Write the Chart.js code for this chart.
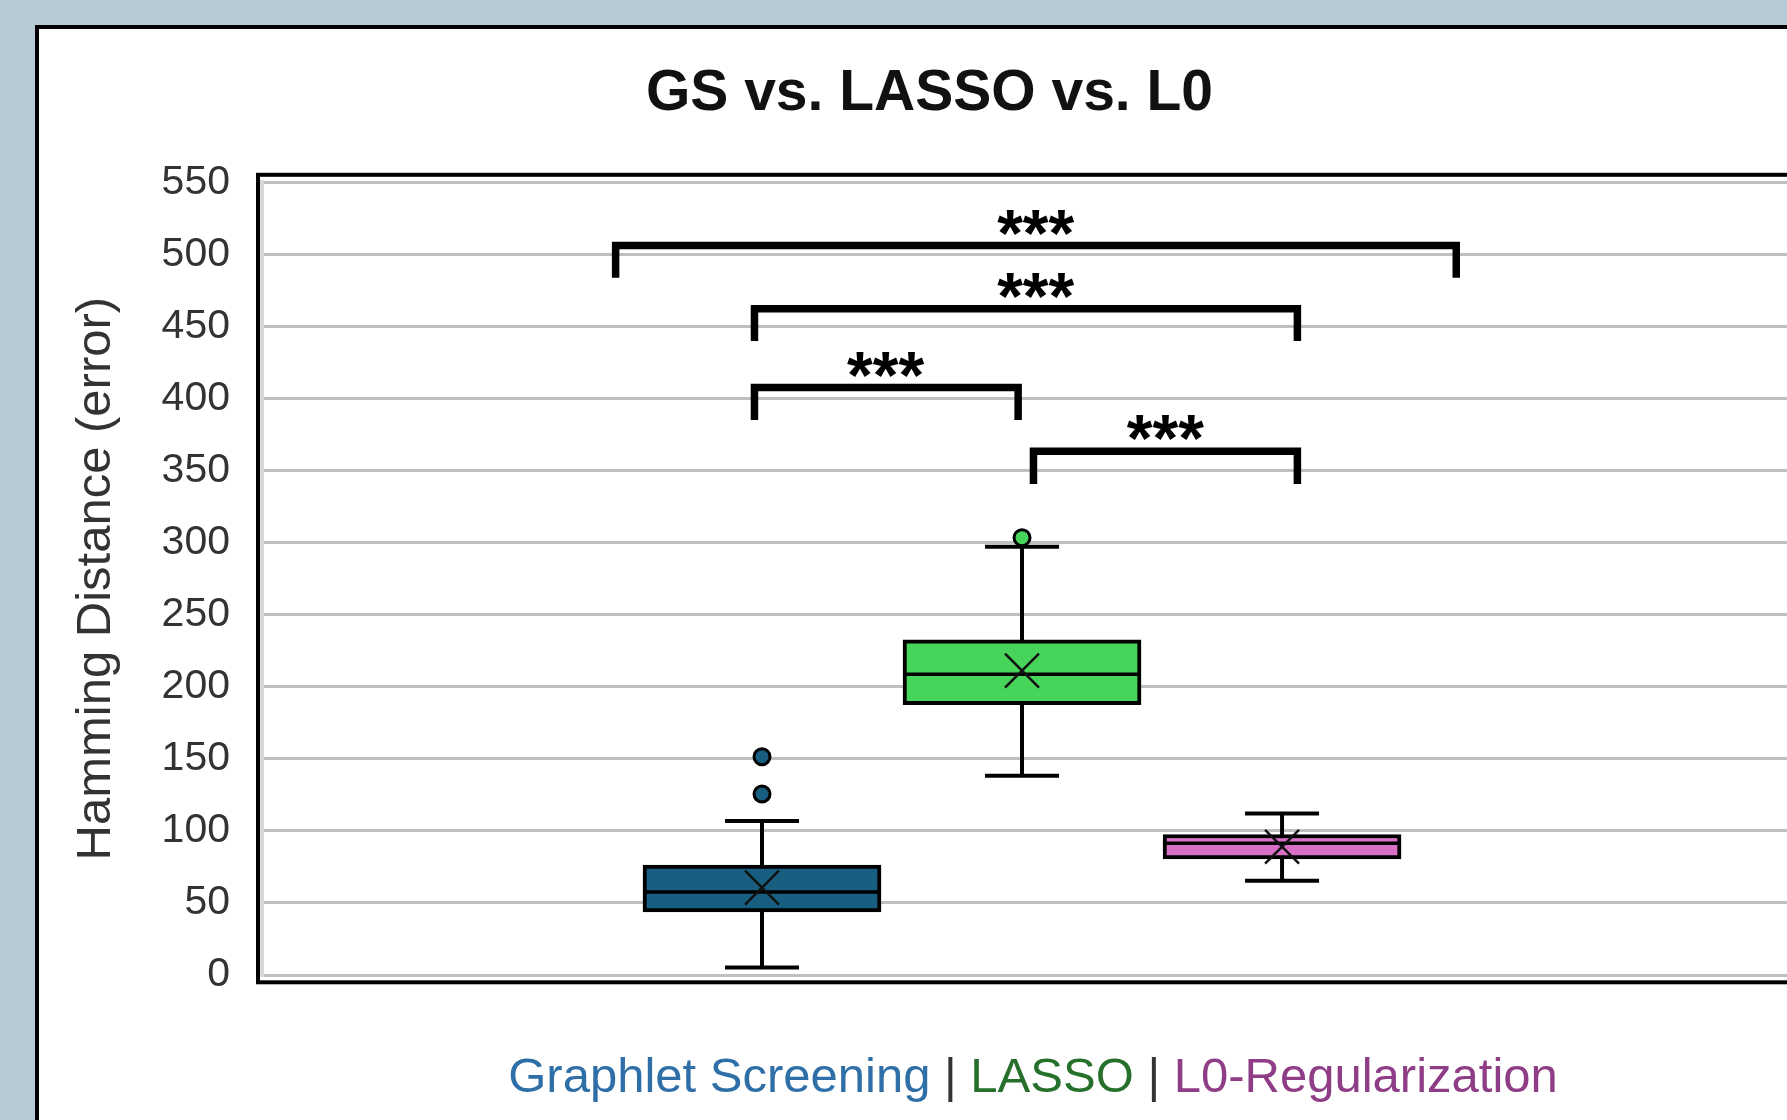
<!DOCTYPE html>
<html lang="en">
<head>
<meta charset="UTF-8">
<title>GS vs. LASSO vs. L0</title>
<script src="https://cdn.jsdelivr.net/npm/chart.js@4.4.1/dist/chart.umd.min.js"></script>
<style>
  html, body { margin: 0; padding: 0; }
  body { width: 1787px; height: 1120px; overflow: hidden; background: #b6cbd6; position: relative; }
  #tarjeta { position: absolute; left: 35px; top: 25px; width: 1800px; height: 1150px; background: #fff; border: 4px solid #000; box-sizing: border-box; }
  #grafico { position: absolute; left: 0; top: 0; }
</style>
</head>
<body>
<div id="tarjeta"></div>
<canvas id="grafico" width="1787" height="1120"></canvas>
<script>
// Datos
const categorias = ["Graphlet Screening", "LASSO", "L0-Regularization"]
const posiciones = [1, 2, 3]
const q1 = [43.8, 187.6, 80.5]
const q3 = [76.3, 232.5, 97.5]
const medianas = [57.6, 208.7, 91.4]
const medias = [60.6, 211.2, 89.0]
const bigoteInf = [5.2, 138.3, 65.4]
const bigoteSup = [106.9, 297.2, 112.1]
const atipicosX = [1, 1, 2]
const atipicosY = [125.6, 151.5, 303.5]
const ticksY = [0, 50, 100, 150, 200, 250, 300, 350, 400, 450, 500, 550]

// Corchetes de significancia (inicio, fin, altura, final de las patas)
const corcheteIzq = [0.437, 0.971, 0.971, 2.044]
const corcheteDer = [3.670, 3.059, 1.985, 3.059]
const corcheteAlto = [506.2, 462.3, 407.6, 363.5]
const corchetePata = [483.9, 440.0, 385.1, 340.7]
const estrellasX = [2.053, 2.053, 1.476, 2.552]
const estrellasY = [522.2, 478.5, 423.7, 379.7]
const estrellasTexto = ["***", "***", "***", "***"]

const coloresCaja = ["#175e80", "#47d45b", "#d870c8"]
const coloresTexto = ["#2f6fa8", "#27702c", "#8e3d86"]
const fuente = "'Liberation Sans', Arial, sans-serif"

Chart.defaults.font.family = fuente

// Datasets: cajas, bigotes, topes, medianas, medias, atípicos y corchetes
const cajas = {
    type: "bar",
    data: posiciones.map((x, i) => ({x: x, y: [q1[i], q3[i]]})),
    backgroundColor: coloresCaja,
    borderColor: "#000",
    borderWidth: 4,
    borderSkipped: false,
    barThickness: 238,
    grouped: false,
    order: 3
}

const bigotes = {
    type: "line",
    data: posiciones.flatMap((x, i) => [{x: x, y: bigoteInf[i]}, {x: x, y: bigoteSup[i]}, {x: x, y: null}]),
    borderColor: "#000",
    borderWidth: 4,
    pointRadius: 0,
    spanGaps: false,
    order: 5
}

const topes = {
    type: "scatter",
    data: posiciones.flatMap((x, i) => [{x: x, y: bigoteInf[i]}, {x: x, y: bigoteSup[i]}]),
    pointStyle: "line",
    pointRadius: 37,
    pointHoverRadius: 37,
    pointBorderColor: "#000",
    pointBorderWidth: 4,
    order: 4
}

const lineaMediana = {
    type: "scatter",
    data: posiciones.map((x, i) => ({x: x, y: medianas[i]})),
    pointStyle: "line",
    pointRadius: 118,
    pointHoverRadius: 118,
    pointBorderColor: "#000",
    pointBorderWidth: 3.5,
    order: 1
}

const marcaMedia = {
    type: "scatter",
    data: posiciones.map((x, i) => ({x: x, y: medias[i]})),
    pointStyle: "crossRot",
    pointRadius: 24,
    pointHoverRadius: 24,
    pointBorderColor: "#111",
    pointBorderWidth: 2.5,
    order: 0
}

const atipicos = {
    type: "scatter",
    data: atipicosX.map((x, i) => ({x: x, y: atipicosY[i]})),
    pointStyle: "circle",
    pointRadius: 8,
    pointHoverRadius: 8,
    pointBackgroundColor: atipicosX.map((x) => coloresCaja[x - 1]),
    pointBorderColor: "#000",
    pointBorderWidth: 3,
    order: 2
}

const corchetes = corcheteIzq.map((izq, i) => ({
    type: "line",
    data: [
        {x: izq, y: corchetePata[i]},
        {x: izq, y: corcheteAlto[i]},
        {x: corcheteDer[i], y: corcheteAlto[i]},
        {x: corcheteDer[i], y: corchetePata[i]}
    ],
    borderColor: "#000",
    borderWidth: 7.5,
    borderJoinStyle: "miter",
    borderCapStyle: "butt",
    pointRadius: 0,
    order: 6
}))

// Marco del área, estrellas y leyenda de colores
const extras = {
    id: "extras",
    afterDraw(chart) {
        const {ctx, chartArea, scales} = chart
        ctx.save()
        ctx.strokeStyle = "#000"
        ctx.lineWidth = 4
        ctx.strokeRect(chartArea.left - 4, chartArea.top - 7.6,
            chartArea.right - chartArea.left + 40, chartArea.bottom - chartArea.top + 14.9)

        ctx.font = "bold 66px " + fuente
        ctx.fillStyle = "#000"
        ctx.textAlign = "left"
        ctx.textBaseline = "alphabetic"
        estrellasTexto.forEach((t, i) => {
            const m = ctx.measureText(t)
            const px = scales.x.getPixelForValue(estrellasX[i])
            const py = scales.y.getPixelForValue(estrellasY[i])
            ctx.fillText(t, px - (m.actualBoundingBoxRight - m.actualBoundingBoxLeft) / 2,
                py + (m.actualBoundingBoxAscent - m.actualBoundingBoxDescent) / 2)
        })

        const partes = [categorias[0], " | ", categorias[1], " | ", categorias[2]]
        const coloresPartes = [coloresTexto[0], "#333", coloresTexto[1], "#333", coloresTexto[2]]
        ctx.font = "49px " + fuente
        const anchoTotal = partes.reduce((s, p) => s + ctx.measureText(p).width, 0)
        let xTexto = 1033 - anchoTotal / 2
        partes.forEach((p, i) => {
            ctx.fillStyle = coloresPartes[i]
            ctx.fillText(p, xTexto, 1092)
            xTexto += ctx.measureText(p).width
        })
        ctx.restore()
    }
}

const config = {
    type: "bar",
    data: {
        datasets: [cajas, bigotes, topes, lineaMediana, marcaMedia, atipicos, ...corchetes]
    },
    options: {
        responsive: false,
        animation: false,
        devicePixelRatio: 1,
        layout: {autoPadding: false, padding: {left: 72, right: 0, top: 0, bottom: 145}},
        plugins: {
            legend: {display: false},
            tooltip: {enabled: false},
            title: {
                display: true,
                text: "GS vs. LASSO vs. L0",
                color: "#111",
                font: {size: 57, weight: "bold", lineHeight: 1.2},
                padding: {top: 60, bottom: 54}
            }
        },
        scales: {
            x: {type: "linear", min: -0.923, max: 4.942, offset: false, display: false},
            y: {
                min: 0,
                max: 550,
                afterBuildTicks: (eje) => { eje.ticks = ticksY.map((v) => ({value: v})) },
                afterFit: (eje) => { eje.width = 190 },
                grid: {color: "#bfbfbf", lineWidth: 3, drawTicks: false},
                border: {color: "#d9d9d9", width: 4},
                ticks: {padding: 32, color: "#333333", font: {size: 41}},
                title: {
                    display: true,
                    text: "Hamming Distance (error)",
                    color: "#333333",
                    font: {size: 49, lineHeight: 0.9},
                    padding: {top: 2, bottom: 0}
                }
            }
        }
    },
    plugins: [extras]
}

new Chart(document.getElementById("grafico"), config)
</script>
</body>
</html>
